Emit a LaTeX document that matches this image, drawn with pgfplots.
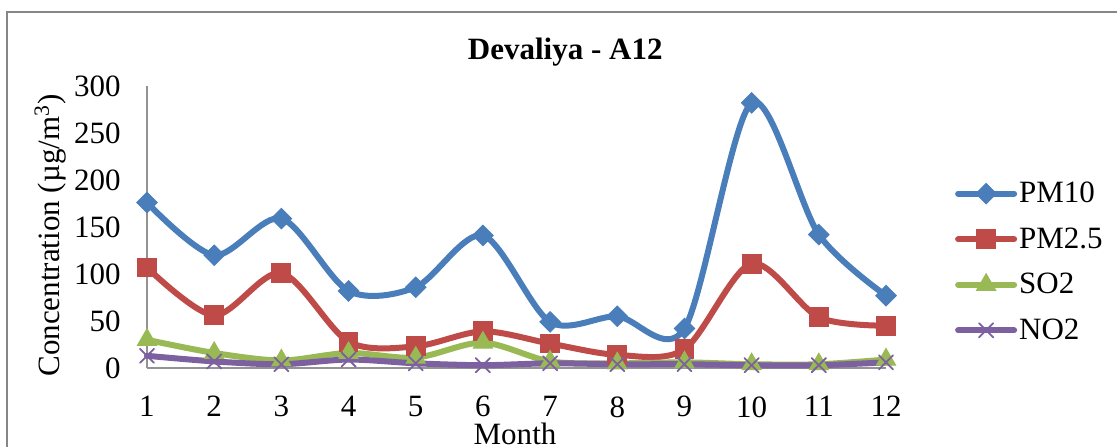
\documentclass[border=0pt]{standalone}
\usepackage{pgfplots}
\pgfplotsset{compat=1.18}
\usepackage{fontspec}
\setmainfont{Liberation Serif}

\definecolor{cPMten}{HTML}{4A7EBB}
\definecolor{cPMtwo}{HTML}{BE4B48}
\definecolor{cSO}{HTML}{98B954}
\definecolor{cNO}{HTML}{7D60A0}
\definecolor{frame}{HTML}{868686}

\newcommand{\chartfont}{\fontsize{15.5}{18}\selectfont}

\begin{document}
\begin{tikzpicture}
\begin{axis}[
    scale only axis,
    width=369.5pt, height=141pt,
    at={(0pt,0pt)}, anchor=south west,
    xmin=1, xmax=12, ymin=0, ymax=300,
    xtick={1,...,12}, ytick={0,50,...,300},
    axis x line*=bottom, axis y line*=left,
    axis line style={-, draw=gray!85, line width=0.8pt},
    major tick length=0pt,
    font=\chartfont,
    /pgf/number format/assume math mode=true,
    yticklabel style={anchor=east, inner sep=0pt, xshift=-13pt},
    xticklabel style={anchor=north, inner sep=0pt, yshift=-14pt},
    title={\textbf{Devaliya - A12}},
    % the title is shifted up 6pt by pgfplots, so it sits a little lower here
    title style={at={(axis description cs:0.566,1.078)}, anchor=center, inner sep=0pt},
    xlabel={Month},
    xlabel style={at={(axis description cs:0.498,-0.235)}, anchor=center, inner sep=0pt},
    ylabel={Concentration (µg/m\textsuperscript{3})},
    ylabel style={at={(axis description cs:-0.131,0.47)}, anchor=center, inner sep=0pt},
    clip=false,
    legend style={at={(axis description cs:1.093,0.376)}, anchor=west, draw=none,
        fill=none, font=\chartfont, row sep=9pt, inner sep=0pt,
        nodes={inner sep=1pt, anchor=west}},
    legend cell align=left,
    legend image code/.code={
        \draw[#1, mark=none] (0pt,0pt) -- (28pt,0pt);
        \draw[#1, only marks] plot coordinates {(14pt,0pt)};
    },
    every axis plot/.append style={smooth, tension=0.5, line width=3pt, line cap=round},
]
\addplot[color=cPMten, mark=square*, mark size=3.6pt,
    mark options={rotate=45, line width=0.5pt, fill=cPMten}] coordinates {
    (1,176) (2,120) (3,159) (4,82) (5,86) (6,141)
    (7,49) (8,55) (9,42) (10,282) (11,142) (12,77)
};
\addlegendentry{PM10}
\addplot[color=cPMtwo, mark=square*, mark size=4.7pt,
    mark options={line width=0.5pt, fill=cPMtwo}] coordinates {
    (1,107) (2,56) (3,101) (4,28) (5,23) (6,39)
    (7,26) (8,14) (9,20) (10,111) (11,54) (12,45)
};
\addlegendentry{PM2.5}
\addplot[color=cSO, mark=triangle*, mark size=5.5pt,
    mark options={line width=0.5pt, fill=cSO}] coordinates {
    (1,30) (2,16) (3,8) (4,16) (5,11) (6,27)
    (7,7) (8,5) (9,6) (10,4) (11,4) (12,9)
};
\addlegendentry{SO2}
\addplot[color=cNO, mark=x, mark size=5pt,
    mark options={line width=0.9pt}] coordinates {
    (1,13) (2,7) (3,4) (4,9) (5,5) (6,3)
    (7,5) (8,4) (9,4) (10,3) (11,3) (12,6)
};
\addlegendentry{NO2}
\end{axis}
\draw[frame, line width=1pt] (600pt,178pt) -- (-70pt,178pt) -- (-70pt,-80pt);
\pgfresetboundingbox
\path[use as bounding box] (-73.5pt,-39pt) rectangle (485pt,184pt);
\end{tikzpicture}
\end{document}
